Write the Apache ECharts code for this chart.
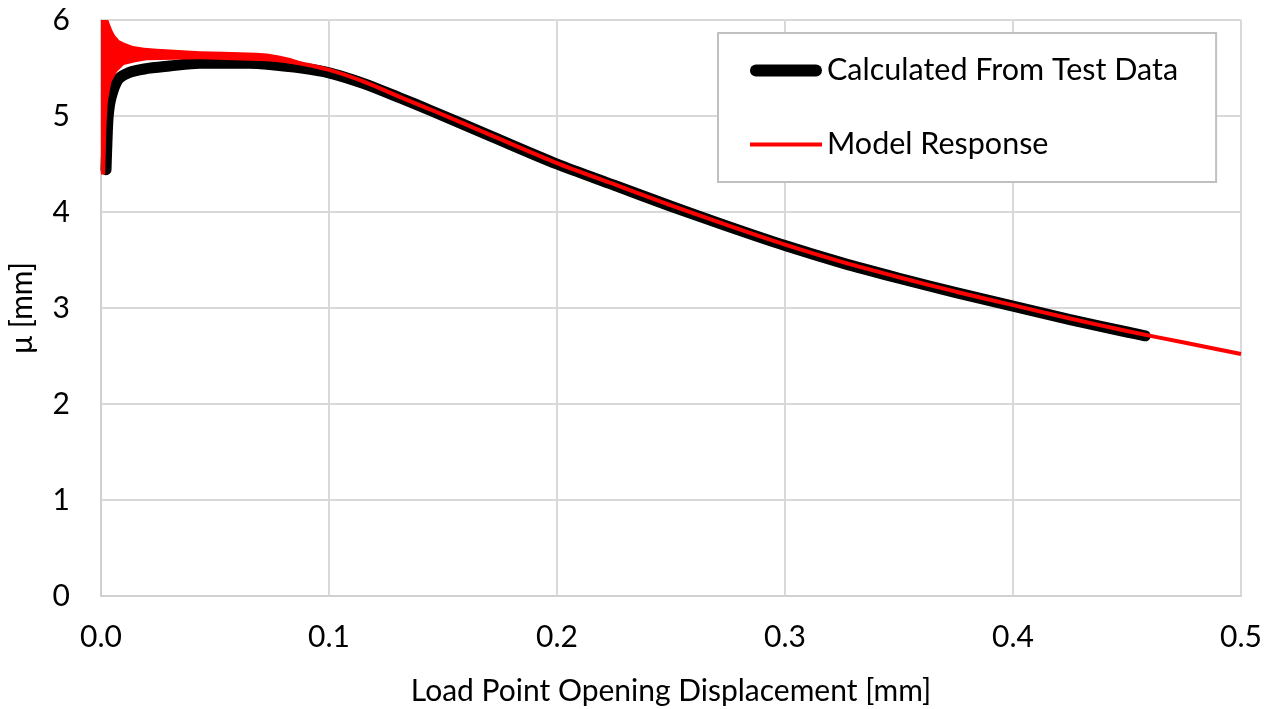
<!DOCTYPE html>
<html><head><meta charset="utf-8">
<script src="https://cdn.jsdelivr.net/npm/echarts@6/dist/echarts.min.js"></script>
<style>html,body{margin:0;padding:0;background:#fff}#c{width:1273px;height:709px}</style>
</head><body><div id="c"></div>
<script>
// Calculated from test data
const testX = [0.0022, 0.0026, 0.0032, 0.0045, 0.0075, 0.012, 0.019, 0.03, 0.0434, 0.055, 0.065, 0.0728, 0.088, 0.1, 0.115, 0.131, 0.1443, 0.172, 0.2, 0.225, 0.25, 0.275, 0.3, 0.325, 0.35, 0.375, 0.4, 0.425, 0.45, 0.458];
const testY = [4.44, 4.72, 5.01, 5.20, 5.38, 5.45, 5.49, 5.52, 5.55, 5.55, 5.55, 5.54, 5.50, 5.45, 5.34, 5.19, 5.06, 4.78, 4.50, 4.28, 4.06, 3.85, 3.65, 3.47, 3.31, 3.16, 3.02, 2.88, 2.75, 2.71];
// Model response (centre line)
const modelX = [0.06, 0.0728, 0.085, 0.1, 0.115, 0.131, 0.1443, 0.172, 0.2, 0.225, 0.25, 0.275, 0.3, 0.325, 0.35, 0.375, 0.4, 0.425, 0.45, 0.475, 0.5];
const modelY = [5.61, 5.60, 5.56, 5.48, 5.36, 5.20, 5.07, 4.79, 4.51, 4.29, 4.07, 3.86, 3.66, 3.48, 3.32, 3.17, 3.03, 2.89, 2.76, 2.64, 2.52];
// Model response oscillation envelope near the origin
const bandUpperX = [0, 0.0032, 0.004, 0.005, 0.0061, 0.008, 0.0105, 0.014, 0.019, 0.0245, 0.0434, 0.0535, 0.068, 0.0728, 0.078, 0.083, 0.088];
const bandUpperY = [6.0, 6.0, 5.95, 5.89, 5.84, 5.79, 5.76, 5.73, 5.71, 5.70, 5.675, 5.67, 5.66, 5.65, 5.63, 5.605, 5.565];
const bandLowerX = [0, 0.0018, 0.0024, 0.003, 0.0045, 0.007, 0.01, 0.015, 0.02, 0.0434, 0.0728, 0.078, 0.083, 0.088];
const bandLowerY = [4.39, 4.39, 4.9, 5.15, 5.35, 5.46, 5.53, 5.56, 5.58, 5.59, 5.57, 5.56, 5.545, 5.525];

const seriesNames = ['Calculated From Test Data', 'Model Response'];
const xTickDecimals = 1;

const zip = (xs, ys) => xs.map((x, i) => [x, ys[i]]);
const FONT = 'Lato';
const FS = 30;
const chart = echarts.init(document.getElementById('c'));
chart.setOption({
  backgroundColor: '#fff',
  animation: false,
  grid: { left: 101, right: 32, top: 20, bottom: 113, containLabel: false, outerBoundsMode: 'none' },
  xAxis: {
    type: 'value', min: 0, max: 0.5, interval: 0.1,
    name: 'Load Point Opening Displacement [mm]', nameLocation: 'middle', nameGap: 80,
    nameTextStyle: { fontFamily: FONT, fontSize: FS, color: '#000' },
    axisLine: { show: true, lineStyle: { color: '#d0d0d0', width: 2 } },
    axisTick: { show: false },
    axisLabel: { fontFamily: FONT, fontSize: FS, color: '#000', margin: 26,
      formatter: v => v.toFixed(xTickDecimals) },
    splitLine: { show: true, lineStyle: { color: '#d9d9d9', width: 2 } }
  },
  yAxis: {
    type: 'value', min: 0, max: 6, interval: 1,
    name: 'μ [mm]', nameLocation: 'middle', nameGap: 64, nameRotate: 90,
    nameTextStyle: { fontFamily: FONT, fontSize: FS, color: '#000' },
    axisLine: { show: true, lineStyle: { color: '#d0d0d0', width: 2 } },
    axisTick: { show: false },
    axisLabel: { fontFamily: FONT, fontSize: FS, color: '#000', margin: 31 },
    splitLine: { show: true, lineStyle: { color: '#d9d9d9', width: 2 } }
  },
  legend: {
    left: 718, top: 33, orient: 'vertical',
    backgroundColor: '#fff', borderColor: '#c0c0c0', borderWidth: 2, borderRadius: 0,
    padding: [22, 38, 22, 32],
    itemWidth: 72, itemHeight: 12, itemGap: 43,
    textStyle: { fontFamily: FONT, fontSize: 30.5, color: '#000', lineHeight: 30 },
    data: [
      { name: seriesNames[0], icon: 'path://M6,0 H66 A6,6 0 0 1 66,12 H6 A6,6 0 0 1 6,0 Z' },
      { name: seriesNames[1], icon: 'path://M0,0 H72 V4 H0 Z' }
    ]
  },
  series: [
    {
      name: seriesNames[0], type: 'line', data: zip(testX, testY),
      showSymbol: false, symbol: 'none', smooth: 0.3, z: 2,
      lineStyle: { color: '#000', width: 11, cap: 'round', join: 'round' },
      itemStyle: { color: '#000' }
    },
    {
      name: 'band', type: 'custom', coordinateSystem: 'cartesian2d', z: 3, clip: true,
      data: [[0.05, 5.6]],
      renderItem: (params, api) => {
        const pts = zip(bandUpperX, bandUpperY).map(p => api.coord(p))
          .concat(zip(bandLowerX, bandLowerY).reverse().map(p => api.coord(p)));
        return { type: 'polygon', shape: { points: pts }, style: { fill: '#ff0000' } };
      }
    },
    {
      name: seriesNames[1], type: 'line', data: zip(modelX, modelY),
      showSymbol: false, symbol: 'none', smooth: 0.3, z: 4,
      lineStyle: { color: '#ff0000', width: 4 },
      itemStyle: { color: '#ff0000' }
    }
  ]
});
</script>
</body></html>
